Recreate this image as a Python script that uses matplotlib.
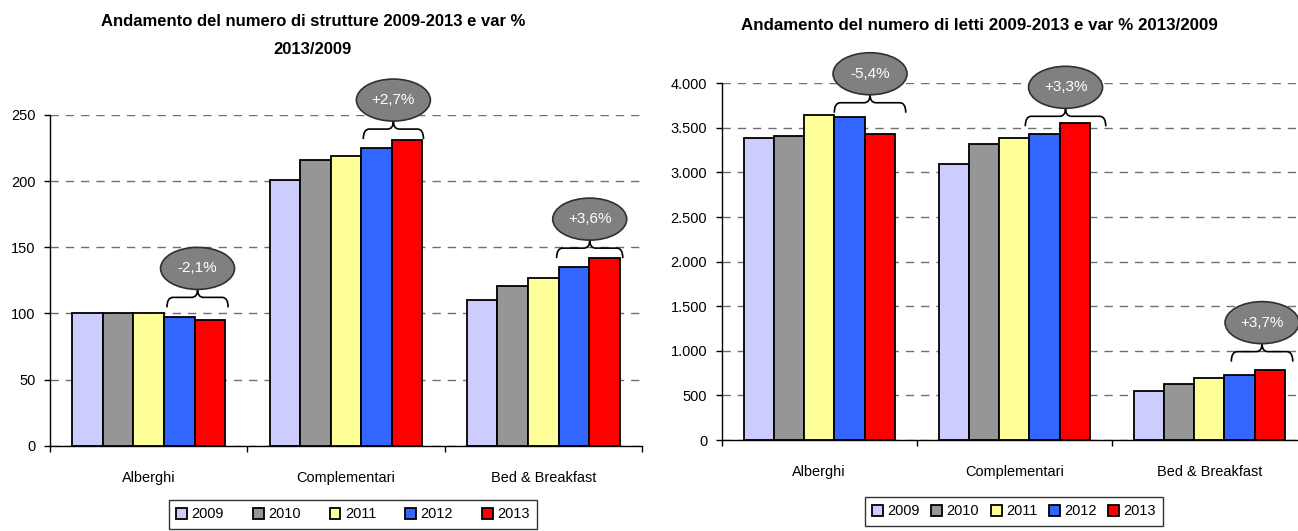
import matplotlib.pyplot as plt
from matplotlib import font_manager as fm
from matplotlib.patches import Ellipse, PathPatch
from matplotlib.path import Path
from matplotlib.ticker import FuncFormatter, FixedLocator

# narrow font if present, otherwise plain Liberation Sans a bit smaller
_names = {f.name for f in fm.fontManager.ttflist}
if 'Liberation Sans Narrow' in _names:
    FAM, SC = 'Liberation Sans Narrow', 1.0
else:
    FAM, SC = 'Liberation Sans', 0.87
plt.rcParams['font.family'] = [FAM, 'DejaVu Sans']
FS = 12 * SC

categories = ['Alberghi', 'Complementari', 'Bed & Breakfast']
years = ['2009', '2010', '2011', '2012', '2013']
colors = ['#CCCCFF', '#969696', '#FFFF99', '#3366FF', '#FF0000']

# numero di strutture
strutture_2009 = [100, 201, 110]
strutture_2010 = [100, 216, 121]
strutture_2011 = [100, 219, 127]
strutture_2012 = [97, 225, 135]
strutture_2013 = [95, 231, 142]
var_strutture = ['-2,1%', '+2,7%', '+3,6%']

# numero di letti
letti_2009 = [3390, 3100, 553]
letti_2010 = [3410, 3320, 624]
letti_2011 = [3640, 3390, 695]
letti_2012 = [3625, 3428, 733]
letti_2013 = [3430, 3555, 785]
var_letti = ['-5,4%', '+3,3%', '+3,7%']

W, H = 1298, 531
fig = plt.figure(figsize=(W / 100, H / 100), dpi=100)
ax1 = fig.add_axes([50 / W, (H - 445.7) / H, 592 / W, 330.7 / H])
ax2 = fig.add_axes([721.7 / W, (H - 440) / H, 585 / W, 356.7 / H])

BW = 0.155


def px(ax):
    # data units per pixel, x and y
    bb = ax.get_position()
    x0, x1 = ax.get_xlim()
    y0, y1 = ax.get_ylim()
    return (x1 - x0) / (bb.width * W), (y1 - y0) / (bb.height * H)


def brace(ax, xa, xb, yb, dx, dy):
    h, t, r = 10 * dy, 8 * dy, 6 * dx
    xm = (xa + xb) / 2
    yh = yb + h
    verts = [(xa, yb), (xa, yh), (xa + r, yh), (xm - r, yh),
             (xm, yh), (xm, yh + t), (xm, yh), (xm + r, yh),
             (xb - r, yh), (xb, yh), (xb, yb)]
    codes = [Path.MOVETO, Path.CURVE3, Path.CURVE3, Path.LINETO,
             Path.CURVE3, Path.CURVE3, Path.CURVE3, Path.CURVE3,
             Path.LINETO, Path.CURVE3, Path.CURVE3]
    ax.add_patch(PathPatch(Path(verts, codes), fc='none', ec='black',
                           lw=1.2, clip_on=False, zorder=5))
    return xm, yh + t


def draw(ax, series, ymax, ystep, labels, gaps, xoffs):
    for i, (vals, c, y) in enumerate(zip(series, colors, years)):
        xs = [k + (i - 2) * BW for k in range(len(categories))]
        ax.bar(xs, vals, BW, color=c, edgecolor='black', linewidth=1.3,
               label=y, zorder=3)
    ax.set_xlim(-0.5, 2.5)
    ax.set_ylim(0, ymax)
    ax.set_yticks(range(0, ymax + 1, ystep))
    ax.yaxis.set_major_formatter(FuncFormatter(lambda v, p: f"{int(v):,}".replace(',', '.')))
    ax.xaxis.set_major_locator(FixedLocator([-0.5, 0.5, 1.5, 2.5]))
    ax.xaxis.set_minor_locator(FixedLocator([0, 1, 2]))
    ax.set_xticklabels([], minor=False)
    ax.set_xticklabels(categories, minor=True)
    ax.tick_params(axis='x', which='major', direction='out', length=4.5, width=1)
    ax.tick_params(axis='x', which='minor', length=0, pad=18, labelsize=FS)
    ax.tick_params(axis='y', direction='out', length=4.5, width=1, pad=6, labelsize=FS)
    for s in ['top', 'right']:
        ax.spines[s].set_visible(False)
    for s in ['left', 'bottom']:
        ax.spines[s].set_linewidth(1.0)
        ax.spines[s].set_zorder(4)
    ax.yaxis.grid(True, linestyle=(0, (6, 5)), color='#707070', lw=1.0, zorder=0)
    ax.set_axisbelow(True)

    dx, dy = px(ax)
    for k, lab in enumerate(labels):
        # brace over the 2012 and 2013 bars
        xa = k + 1 * BW - BW / 2 + xoffs[k][0] * dx
        xb = k + 2 * BW + BW / 2 + xoffs[k][1] * dx
        yb = series[3][k] + gaps[k] * dy
        xm, ytop = brace(ax, xa, xb, yb, dx, dy)
        ew, eh = 74 * dx, 42 * dy
        ax.add_patch(Ellipse((xm, ytop + eh / 2), ew, eh, fc='#808080',
                             ec='#303030', lw=1.2, clip_on=False, zorder=6))
        ax.text(xm, ytop + eh / 2, lab, color='white', fontsize=11,
                ha='center', va='center', zorder=7, clip_on=False)


draw(ax1, [strutture_2009, strutture_2010, strutture_2011, strutture_2012, strutture_2013],
     250, 50, var_strutture, [10, 9, 9], [(3, 3), (2, 1), (-2, 3)])
draw(ax2, [letti_2009, letti_2010, letti_2011, letti_2012, letti_2013],
     4000, 500, var_letti, [4, 8, 13], [(0, 11), (-4, 16), (7, 8)])

TFS = 12 if SC < 1 else 13
fig.text(313 / W, 1 - 22 / H, 'Andamento del numero di strutture 2009-2013 e var %',
         ha='center', va='center', fontsize=TFS, fontweight='bold')
fig.text(313 / W, 1 - 49 / H, '2013/2009',
         ha='center', va='center', fontsize=TFS, fontweight='bold')
fig.text(979 / W, 1 - 25 / H,
         'Andamento del numero di letti 2009-2013 e var % 2013/2009',
         ha='center', va='center', fontsize=TFS * 1.01, fontweight='bold')

h, l = ax1.get_legend_handles_labels()
fig.legend(h, l, loc='upper left', bbox_to_anchor=(169 / W, 1 - 500 / H), ncol=5,
           fontsize=FS, frameon=True, fancybox=False, edgecolor='black',
           borderaxespad=0, borderpad=0.5, handlelength=0.75, handleheight=0.75,
           handletextpad=0.3, columnspacing=2.0).get_frame().set_linewidth(1.0)
h, l = ax2.get_legend_handles_labels()
fig.legend(h, l, loc='upper left', bbox_to_anchor=(865 / W, 1 - 497 / H), ncol=5,
           fontsize=FS, frameon=True, fancybox=False, edgecolor='black',
           borderaxespad=0, borderpad=0.5, handlelength=0.75, handleheight=0.75,
           handletextpad=0.3, columnspacing=0.8).get_frame().set_linewidth(1.0)

fig.savefig('out.png', dpi=100)
